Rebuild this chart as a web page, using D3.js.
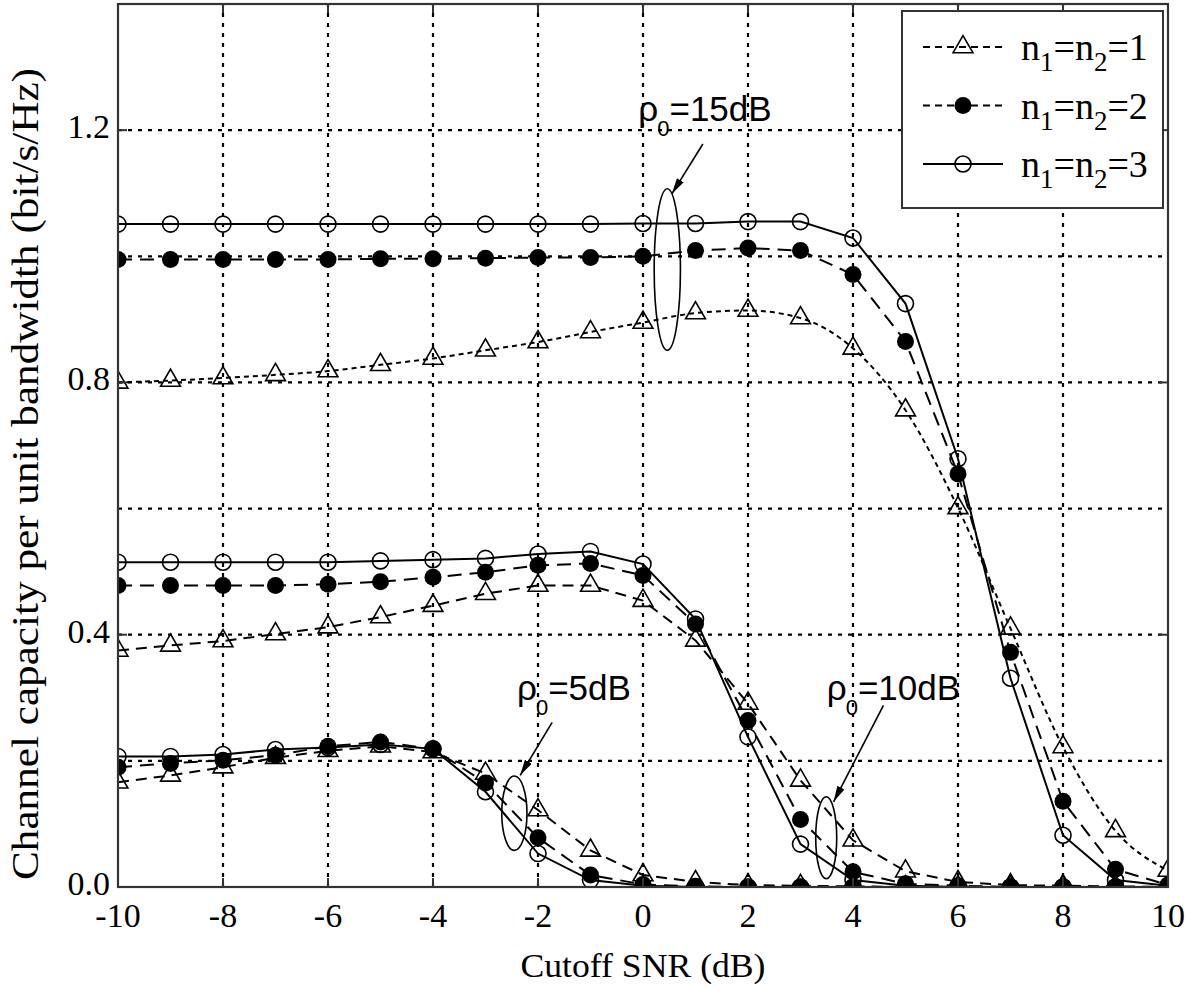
<!DOCTYPE html>
<html>
<head>
<meta charset="utf-8">
<script src="https://cdn.jsdelivr.net/npm/d3@7"></script>
<style>
  body { margin: 0; background: #fff; }
</style>
</head>
<body>
<svg id="chart"></svg>
<script>
// x values (cutoff SNR, dB)
var snr = [-10, -9, -8, -7, -6, -5, -4, -3, -2, -1, 0, 1, 2, 3, 4, 5, 6, 7, 8, 9, 10];

// rho0 = 15 dB
var cap15_n1 = [0.800, 0.803, 0.807, 0.812, 0.818, 0.828, 0.838, 0.851, 0.864, 0.880, 0.895, 0.910, 0.914, 0.902, 0.854, 0.756, 0.601, 0.410, 0.222, 0.089, 0.026];
var cap15_n2 = [0.995, 0.995, 0.995, 0.995, 0.995, 0.996, 0.996, 0.997, 0.998, 0.998, 1.000, 1.009, 1.013, 1.009, 0.971, 0.865, 0.655, 0.372, 0.136, 0.028, 0.003];
var cap15_n3 = [1.051, 1.051, 1.051, 1.051, 1.051, 1.051, 1.051, 1.051, 1.051, 1.051, 1.052, 1.052, 1.055, 1.055, 1.029, 0.925, 0.679, 0.331, 0.082, 0.011, 0.002];

// rho0 = 10 dB
var cap10_n1 = [0.375, 0.383, 0.390, 0.401, 0.412, 0.428, 0.446, 0.465, 0.478, 0.478, 0.454, 0.391, 0.291, 0.169, 0.074, 0.025, 0.008, 0.003, 0.002, 0.001, 0.000];
var cap10_n2 = [0.478, 0.478, 0.478, 0.478, 0.480, 0.484, 0.491, 0.499, 0.510, 0.513, 0.494, 0.417, 0.264, 0.107, 0.024, 0.005, 0.002, 0.000, 0.000, 0.000, 0.000];
var cap10_n3 = [0.515, 0.515, 0.515, 0.515, 0.515, 0.517, 0.519, 0.521, 0.528, 0.532, 0.512, 0.425, 0.238, 0.068, 0.011, 0.002, 0.000, 0.000, 0.000, 0.000, 0.000];

// rho0 = 5 dB
var cap5_n1 = [0.166, 0.177, 0.190, 0.205, 0.216, 0.223, 0.214, 0.180, 0.122, 0.058, 0.019, 0.008, 0.003, 0.002, 0.001, 0.000, 0.000, 0.000, 0.000, 0.000, 0.000];
var cap5_n2 = [0.190, 0.196, 0.201, 0.209, 0.223, 0.230, 0.219, 0.165, 0.078, 0.019, 0.004, 0.001, 0.000, 0.000, 0.000, 0.000, 0.000, 0.000, 0.000, 0.000, 0.000];
var cap5_n3 = [0.207, 0.207, 0.210, 0.218, 0.221, 0.226, 0.219, 0.151, 0.053, 0.011, 0.002, 0.000, 0.000, 0.000, 0.000, 0.000, 0.000, 0.000, 0.000, 0.000, 0.000];

var xTicks = [-10, -8, -6, -4, -2, 0, 2, 4, 6, 8, 10];
var yTicks = [0.0, 0.4, 0.8, 1.2];
var yGrid = [0.2, 0.4, 0.6, 0.8, 1.0, 1.2];
var legendN = ["1", "2", "3"];
var rhoLabels = ["15dB", "5dB", "10dB"];

var width = 1200, height = 990;
var margin = {top: 4, right: 32, bottom: 103, left: 118};

var xScale = d3.scaleLinear().domain([-10, 10]).range([margin.left, width - margin.right]);
var yScale = d3.scaleLinear().domain([0, 1.4]).range([height - margin.bottom, margin.top]);

var svg = d3.select('#chart')
    .attr('width', width)
    .attr('height', height)
    .style('background', '#fff');

var serif = '"Liberation Serif", "Times New Roman", serif';
var sans = '"Liberation Sans", Arial, sans-serif';

var defs = svg.append('defs');
defs.append('clipPath').attr('id', 'plot-clip')
    .append('rect')
    .attr('x', xScale(-10)).attr('y', yScale(1.4))
    .attr('width', xScale(10) - xScale(-10))
    .attr('height', yScale(0) - yScale(1.4));

defs.append('marker')
    .attr('id', 'arrow')
    .attr('markerUnits', 'userSpaceOnUse')
    .attr('markerWidth', 16).attr('markerHeight', 8)
    .attr('refX', 16).attr('refY', 4)
    .attr('orient', 'auto')
    .append('path')
    .attr('d', 'M0,0 L16,4 L0,8 Z')
    .attr('fill', '#000');

// grid
var grid = svg.append('g').attr('stroke', '#000').attr('stroke-width', 2.2).attr('stroke-dasharray', '4,6');
xTicks.slice(1, -1).forEach(function(t){
    grid.append('line')
        .attr('x1', xScale(t)).attr('x2', xScale(t))
        .attr('y1', yScale(0)).attr('y2', yScale(1.4));
});
yGrid.forEach(function(t){
    grid.append('line')
        .attr('x1', xScale(-10)).attr('x2', xScale(10))
        .attr('y1', yScale(t)).attr('y2', yScale(t));
});

// series
var series = [
    {y: cap15_n1, n: 1, dash: '5,4', curve: d3.curveMonotoneX},
    {y: cap15_n2, n: 2, dash: '14,8'},
    {y: cap15_n3, n: 3, dash: null},
    {y: cap10_n1, n: 1, dash: '11,7'},
    {y: cap10_n2, n: 2, dash: '14,8'},
    {y: cap10_n3, n: 3, dash: null},
    {y: cap5_n1, n: 1, dash: '11,7'},
    {y: cap5_n2, n: 2, dash: '14,8'},
    {y: cap5_n3, n: 3, dash: null}
];

function drawMarker(g, n, x, y){
    if (n == 1) {
        g.append('path')
            .attr('d', d3.symbol(d3.symbolTriangle, 170)())
            .attr('transform', 'translate(' + x + ',' + y + ')')
            .attr('fill', 'none').attr('stroke', '#000').attr('stroke-width', 1.6);
    } else if (n == 2) {
        g.append('circle').attr('cx', x).attr('cy', y).attr('r', 8.5).attr('fill', '#000');
    } else {
        g.append('circle').attr('cx', x).attr('cy', y).attr('r', 8)
            .attr('fill', 'none').attr('stroke', '#000').attr('stroke-width', 1.6);
    }
}

var plot = svg.append('g').attr('clip-path', 'url(#plot-clip)');

series.forEach(function(s){
    var line = d3.line()
        .x(function(d, i){ return xScale(snr[i]); })
        .y(function(d){ return yScale(d); })
        .curve(s.curve || d3.curveLinear);
    plot.append('path')
        .attr('d', line(s.y))
        .attr('fill', 'none')
        .attr('stroke', '#000')
        .attr('stroke-width', 2)
        .attr('stroke-dasharray', s.dash);
    s.y.forEach(function(d, i){
        drawMarker(plot, s.n, xScale(snr[i]), yScale(d));
    });
});

// frame
svg.append('rect')
    .attr('x', xScale(-10)).attr('y', yScale(1.4))
    .attr('width', xScale(10) - xScale(-10))
    .attr('height', yScale(0) - yScale(1.4))
    .attr('fill', 'none').attr('stroke', '#333').attr('stroke-width', 2.2);

// tick marks, inward on all four sides
var ticks = svg.append('g').attr('stroke', '#333').attr('stroke-width', 2);
xTicks.forEach(function(t){
    ticks.append('line').attr('x1', xScale(t)).attr('x2', xScale(t)).attr('y1', yScale(0)).attr('y2', yScale(0) - 9);
    ticks.append('line').attr('x1', xScale(t)).attr('x2', xScale(t)).attr('y1', yScale(1.4)).attr('y2', yScale(1.4) + 9);
});
yTicks.forEach(function(t){
    ticks.append('line').attr('x1', xScale(-10)).attr('x2', xScale(-10) + 9).attr('y1', yScale(t)).attr('y2', yScale(t));
    ticks.append('line').attr('x1', xScale(10)).attr('x2', xScale(10) - 9).attr('y1', yScale(t)).attr('y2', yScale(t));
});

// tick labels
xTicks.forEach(function(t){
    svg.append('text')
        .attr('x', xScale(t)).attr('y', 927)
        .attr('text-anchor', 'middle')
        .style('font-family', serif).style('font-size', '34px').style('fill', '#000')
        .text(t);
});
yTicks.forEach(function(t){
    svg.append('text')
        .attr('x', xScale(-10) - 8).attr('y', yScale(t) + 8)
        .attr('text-anchor', 'end')
        .style('font-family', serif).style('font-size', '34px').style('fill', '#000')
        .text(t.toFixed(1));
});

// axis titles
svg.append('text')
    .attr('x', (xScale(-10) + xScale(10)) / 2).attr('y', 977)
    .attr('text-anchor', 'middle')
    .attr('textLength', 245).attr('lengthAdjust', 'spacingAndGlyphs')
    .style('font-family', serif).style('font-size', '34px').style('fill', '#000')
    .text('Cutoff SNR (dB)');

svg.append('text')
    .attr('transform', 'translate(38,474) rotate(-90)')
    .attr('text-anchor', 'middle')
    .attr('textLength', 812).attr('lengthAdjust', 'spacingAndGlyphs')
    .style('font-family', serif).style('font-size', '37px').style('fill', '#000')
    .text('Channel capacity per unit bandwidth (bit/s/Hz)');

// legend
var lg = svg.append('g');
lg.append('rect')
    .attr('x', 902).attr('y', 11).attr('width', 261).attr('height', 197)
    .attr('fill', '#fff').attr('stroke', '#333').attr('stroke-width', 2);
var legendDash = ['7,5', '7,5', null];
legendN.forEach(function(n, i){
    var ly = 47 + i * 58.5;
    lg.append('line')
        .attr('x1', 923).attr('x2', 1003).attr('y1', ly).attr('y2', ly)
        .attr('stroke', '#000').attr('stroke-width', 2)
        .attr('stroke-dasharray', legendDash[i]);
    drawMarker(lg, i + 1, 963, ly);
    var t = lg.append('text')
        .attr('x', 1021).attr('y', ly + 13)
        .style('font-family', serif).style('font-size', '38px').style('fill', '#000');
    t.append('tspan').text('n');
    t.append('tspan').attr('dy', 11).style('font-size', '27px').text('1');
    t.append('tspan').attr('dy', -11).text('=n');
    t.append('tspan').attr('dy', 11).style('font-size', '27px').text('2');
    t.append('tspan').attr('dy', -11).text('=' + n);
});

// rho0 annotations, positioned in data units
var notes = [
    {label: rhoLabels[0], tx: -0.09, ty: 1.215, ax0: 1.14, ay0: 1.178, ax1: 0.55, ay1: 1.099, ex: 0.463, ey: 0.979, erx: 0.25, ery: 0.128},
    {label: rhoLabels[1], tx: -2.40, ty: 0.296, ax0: -1.73, ay0: 0.261, ax1: -2.34, ay1: 0.177, ex: -2.45, ey: 0.117, erx: 0.24, ery: 0.059},
    {label: rhoLabels[2], tx: 3.50, ty: 0.296, ax0: 4.58, ay0: 0.288, ax1: 3.63, ay1: 0.135, ex: 3.49, ey: 0.078, erx: 0.20, ery: 0.065}
];

notes.forEach(function(d){
    svg.append('ellipse')
        .attr('cx', xScale(d.ex)).attr('cy', yScale(d.ey))
        .attr('rx', xScale(d.ex + d.erx) - xScale(d.ex))
        .attr('ry', yScale(0) - yScale(d.ery))
        .attr('fill', 'none').attr('stroke', '#000').attr('stroke-width', 1.6);
    svg.append('line')
        .attr('x1', xScale(d.ax0)).attr('y1', yScale(d.ay0))
        .attr('x2', xScale(d.ax1)).attr('y2', yScale(d.ay1))
        .attr('stroke', '#000').attr('stroke-width', 1.6)
        .attr('marker-end', 'url(#arrow)');
    var t = svg.append('text')
        .attr('x', xScale(d.tx)).attr('y', yScale(d.ty))
        .style('font-family', sans).style('font-size', '35px').style('fill', '#000');
    t.append('tspan').text('\u03c1');
    t.append('tspan').attr('dx', -1).attr('dy', 15).style('font-size', '22px').text('0');
    t.append('tspan').attr('dy', -15).text('=' + d.label);
});
</script>
</body>
</html>
